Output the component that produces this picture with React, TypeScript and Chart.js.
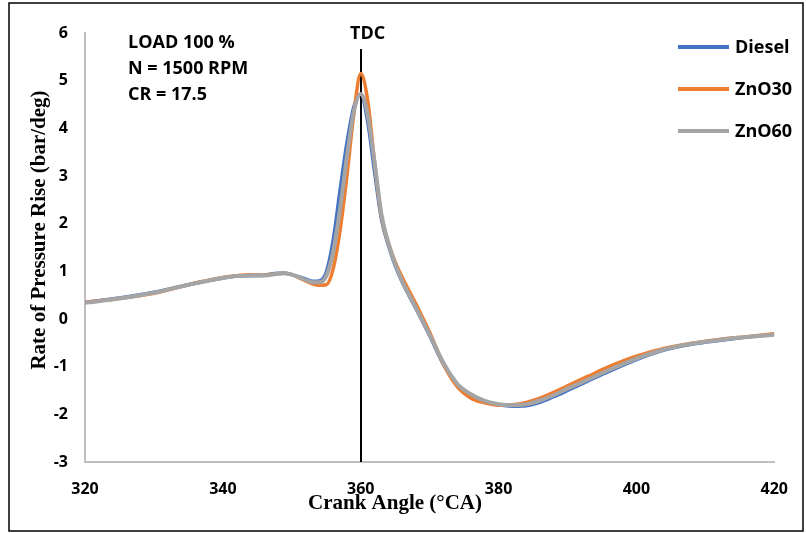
import React, { useEffect, useRef } from "react";
import { Chart, registerables } from "chart.js";

Chart.register(...registerables);

const angles = [320, 325, 330, 335, 340, 342, 344, 346, 348, 349, 350, 351, 352, 353, 354, 355, 356, 357, 358, 359, 360, 361, 362, 363, 364, 365, 366, 368, 370, 372, 374, 376, 378, 380, 382, 384, 386, 388, 390, 393, 396, 400, 404, 408, 412, 416, 420];

const diesel = [0.35, 0.44, 0.56, 0.72, 0.86, 0.9, 0.91, 0.92, 0.96, 0.96, 0.93, 0.89, 0.84, 0.79, 0.8, 0.98, 1.65, 2.7, 3.7, 4.45, 4.72, 4.15, 3.1, 2.1, 1.55, 1.12, 0.78, 0.22, -0.35, -0.95, -1.38, -1.6, -1.73, -1.8, -1.83, -1.82, -1.75, -1.63, -1.5, -1.3, -1.1, -0.85, -0.65, -0.53, -0.45, -0.38, -0.32];

const zno30 = [0.35, 0.43, 0.54, 0.72, 0.87, 0.91, 0.93, 0.92, 0.95, 0.96, 0.93, 0.87, 0.8, 0.74, 0.71, 0.72, 1.05, 1.85, 3.0, 4.3, 5.15, 4.6, 3.3, 2.15, 1.6, 1.2, 0.88, 0.32, -0.28, -0.95, -1.42, -1.66, -1.76, -1.81, -1.8, -1.75, -1.66, -1.54, -1.4, -1.2, -1.0, -0.78, -0.62, -0.51, -0.43, -0.37, -0.31];

const zno60 = [0.34, 0.43, 0.55, 0.72, 0.86, 0.9, 0.91, 0.91, 0.95, 0.96, 0.93, 0.88, 0.82, 0.77, 0.77, 0.9, 1.4, 2.3, 3.4, 4.35, 4.72, 4.3, 3.3, 2.2, 1.6, 1.15, 0.8, 0.24, -0.33, -0.92, -1.36, -1.58, -1.72, -1.79, -1.81, -1.79, -1.71, -1.6, -1.46, -1.27, -1.07, -0.83, -0.64, -0.52, -0.44, -0.38, -0.33];

const seriesNames = ["Diesel", "ZnO30", "ZnO60"];
const seriesColors = ["#4472C4", "#ED7D31", "#A5A5A5"];
const infoLines = ["LOAD 100 %", "N = 1500 RPM", "CR = 17.5"];
const tdcAngle = 360;

const toPoints = (vals: number[]) => vals.map((v, i) => ({ x: angles[i], y: v }));

const decorPlugin = {
  id: "decor",
  beforeDatasetsDraw(chart: any) {
    const { ctx, scales } = chart;
    const xs = scales.x;
    const ys = scales.y;
    ctx.save();
    const px = Math.round(xs.getPixelForValue(tdcAngle));
    ctx.strokeStyle = "#000";
    ctx.lineWidth = 2;
    ctx.beginPath();
    ctx.moveTo(px, 49);
    ctx.lineTo(px, ys.bottom);
    ctx.stroke();
    ctx.restore();
  },
  afterDraw(chart: any) {
    const { ctx, scales } = chart;
    const xs = scales.x;
    ctx.save();
    ctx.strokeStyle = "#000";
    ctx.lineWidth = 1.5;
    ctx.strokeRect(9, 3, 794, 528);
    ctx.fillStyle = "#000";
    ctx.font = "bold 18px 'Open Sans', sans-serif";
    ctx.textAlign = "center";
    ctx.textBaseline = "middle";
    ctx.fillText("TDC", xs.getPixelForValue(tdcAngle) + 7, 34);
    ctx.textAlign = "left";
    infoLines.forEach((t, i) => ctx.fillText(t, 128, 43 + i * 26));
    seriesNames.forEach((n, i) => {
      const y = 47 + i * 42;
      ctx.strokeStyle = seriesColors[i];
      ctx.lineWidth = 4;
      ctx.beginPath();
      ctx.moveTo(678, y);
      ctx.lineTo(729, y);
      ctx.stroke();
      ctx.fillStyle = "#000";
      ctx.fillText(n, 735, y + 1);
    });
    ctx.font = "bold 21px 'Liberation Serif', serif";
    ctx.textAlign = "center";
    ctx.fillText("Crank Angle (\u00B0CA)", 395, 504);
    ctx.save();
    ctx.translate(40, 230);
    ctx.rotate(-Math.PI / 2);
    ctx.fillText("Rate of Pressure Rise (bar/deg)", 0, 0);
    ctx.restore();
    ctx.restore();
  },
};

export default function App() {
  const ref = useRef<HTMLCanvasElement>(null);
  useEffect(() => {
    if (!ref.current) return;
    const datasets = [diesel, zno30, zno60].map((vals, i) => ({
      label: seriesNames[i],
      data: toPoints(vals),
      borderColor: seriesColors[i],
      backgroundColor: seriesColors[i],
      borderWidth: i === 2 ? 4 : 3.5,
      pointRadius: 0,
      order: 2 - i,
      cubicInterpolationMode: "monotone" as const,
      fill: false,
    }));
    const chart = new Chart(ref.current, {
      type: "line",
      data: { datasets },
      plugins: [decorPlugin],
      options: {
        animation: false,
        responsive: false,
        layout: { padding: { left: 0, top: 33, right: 31, bottom: 0 } },
        plugins: { legend: { display: false }, tooltip: { enabled: false } },
        scales: {
          x: {
            type: "linear",
            min: 320,
            max: 420,
            afterFit: (s: any) => { s.height = 71; },
            ticks: {
              stepSize: 20,
              padding: 18,
              color: "#000",
              font: { family: "'Open Sans', sans-serif", size: 16, weight: "bold" },
            },
            grid: { display: false, drawTicks: false },
            border: { color: "#BFBFBF", width: 2 },
          },
          y: {
            min: -3,
            max: 6,
            afterFit: (s: any) => { s.width = 85; },
            ticks: {
              stepSize: 1,
              padding: 17,
              color: "#000",
              font: { family: "'Open Sans', sans-serif", size: 16, weight: "bold" },
            },
            grid: { display: false, drawTicks: false },
            border: { color: "#BFBFBF", width: 2 },
          },
        },
      },
    });
    return () => chart.destroy();
  }, []);
  return (
    <div style={{ position: "absolute", left: 0, top: 0, width: 806, height: 533, background: "#fff" }}>
      <canvas ref={ref} width={806} height={533} style={{ display: "block" }} />
    </div>
  );
}
